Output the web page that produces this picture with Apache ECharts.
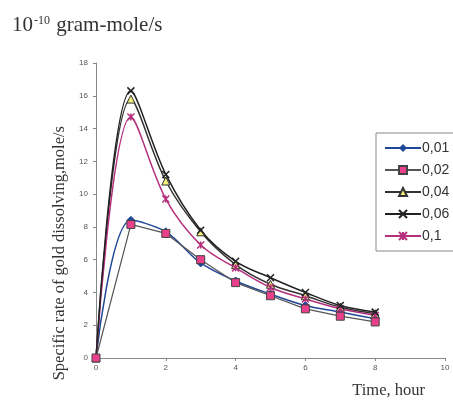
<!DOCTYPE html>
<html>
<head>
<meta charset="utf-8">
<script src="https://cdn.jsdelivr.net/npm/echarts@6/dist/echarts.min.js"></script>
<style>
  html, body { margin: 0; padding: 0; background: #fff; }
  #main { width: 453px; height: 401px; }
</style>
</head>
<body>
<div id="main"></div>
<script>
var hours = [0, 1, 2, 3, 4, 5, 6, 7, 8];
var names = ["0,01", "0,02", "0,04", "0,06", "0,1"];
var s001 = [0, 8.4, 7.7, 5.8, 4.7, 3.9, 3.2, 2.8, 2.4];
var s002 = [0, 8.15, 7.6, 6.0, 4.6, 3.8, 3.0, 2.55, 2.2];
var s004 = [0, 15.8, 10.8, 7.7, 5.7, 4.5, 3.8, 3.1, 2.7];
var s006 = [0, 16.3, 11.2, 7.8, 5.9, 4.9, 4.0, 3.2, 2.8];
var s01 = [0, 14.7, 9.7, 6.9, 5.5, 4.3, 3.6, 3.0, 2.6];

var chartDom = document.getElementById("main");
var myChart = echarts.init(chartDom);

function pairs(ys) {
  return hours.map(function (h, i) {
    return [h, ys[i]];
  });
}

var crossPath = "path://M0,0L10,10M10,0L0,10";
var starPath = "path://M0,0L10,10M10,0L0,10M5,0L5,10";

var option = {
  animation: false,
  title: {
    text: "{b|10}{s|-10}{b| gram-mole/s}",
    left: 7,
    top: 10,
    textStyle: {
      fontWeight: "normal",
      rich: {
        b: { fontFamily: "Liberation Serif", fontSize: 21, fontWeight: "normal", color: "#333" },
        s: { fontFamily: "Liberation Serif", fontSize: 12, fontWeight: "normal", color: "#333", verticalAlign: "top", padding: [0, 1, 8, 1] },
      },
    },
  },
  legend: {
    orient: "vertical",
    left: 376,
    top: 133,
    width: 100,
    padding: [8, 30, 8, 8],
    itemGap: 8,
    itemWidth: 36,
    itemHeight: 10,
    borderColor: "#888",
    borderWidth: 1,
    backgroundColor: "#fff",
    textStyle: { fontFamily: "Liberation Sans", fontSize: 14, color: "#333", padding: [0, 0, 0, -4] },
    data: names,
  },
  grid: {
    left: 96,
    right: 8,
    top: 63,
    bottom: 43,
  },
  xAxis: {
    type: "value",
    min: 0,
    max: 10,
    interval: 2,
    name: "Time, hour",
    nameLocation: "end",
    nameGap: 0,
    nameTextStyle: {
      fontFamily: "Liberation Serif",
      fontSize: 16.5,
      color: "#333",
      align: "right",
      verticalAlign: "top",
      padding: [24, 20, 0, 0],
    },
    axisLine: { lineStyle: { color: "#888" } },
    axisTick: { length: 3, lineStyle: { color: "#888" } },
    axisLabel: { fontFamily: "Liberation Sans", fontSize: 8, color: "#555", margin: 6 },
    splitLine: { show: false },
  },
  yAxis: {
    type: "value",
    min: 0,
    max: 18,
    interval: 2,
    axisLine: { show: true, lineStyle: { color: "#888" } },
    axisTick: { show: true, length: 3, lineStyle: { color: "#888" } },
    axisLabel: { fontFamily: "Liberation Sans", fontSize: 8, color: "#555", margin: 8 },
    splitLine: { show: false },
  },
  graphic: [
    {
      type: "text",
      left: 51,
      top: 126,
      rotation: Math.PI / 2,
      style: {
        text: "Specific rate of gold dissolving,mole/s",
        fontFamily: "Liberation Serif",
        fontSize: 16.5,
        fill: "#333",
      },
    },
  ],
  series: [
    {
      name: names[0],
      type: "line",
      smooth: 0.35,
      data: pairs(s001),
      symbol: "diamond",
      symbolSize: 8,
      lineStyle: { color: "#1f4896", width: 1.5 },
      itemStyle: { color: "#1f4896", borderColor: "#1f4896" },
      z: 2,
    },
    {
      name: names[1],
      type: "line",
      data: pairs(s002),
      symbol: "rect",
      symbolSize: 8,
      lineStyle: { color: "#555", width: 1.2 },
      itemStyle: { color: "#e8408a", borderColor: "#444", borderWidth: 1 },
      z: 5,
    },
    {
      name: names[2],
      type: "line",
      smooth: 0.35,
      data: pairs(s004),
      symbol: "triangle",
      symbolSize: 8,
      lineStyle: { color: "#333", width: 1.5 },
      itemStyle: { color: "#f2ee7a", borderColor: "#333", borderWidth: 1 },
      z: 3,
    },
    {
      name: names[3],
      type: "line",
      smooth: 0.35,
      data: pairs(s006),
      symbol: crossPath,
      symbolSize: 7,
      lineStyle: { color: "#222", width: 1.5 },
      itemStyle: { color: "none", borderColor: "#222", borderWidth: 1.5 },
      z: 4,
    },
    {
      name: names[4],
      type: "line",
      smooth: 0.35,
      data: pairs(s01),
      symbol: starPath,
      symbolSize: 7,
      lineStyle: { color: "#b4307e", width: 1.5 },
      itemStyle: { color: "none", borderColor: "#b4307e", borderWidth: 1.5 },
      z: 3,
    },
  ],
};
option && myChart.setOption(option);
</script>
</body>
</html>
